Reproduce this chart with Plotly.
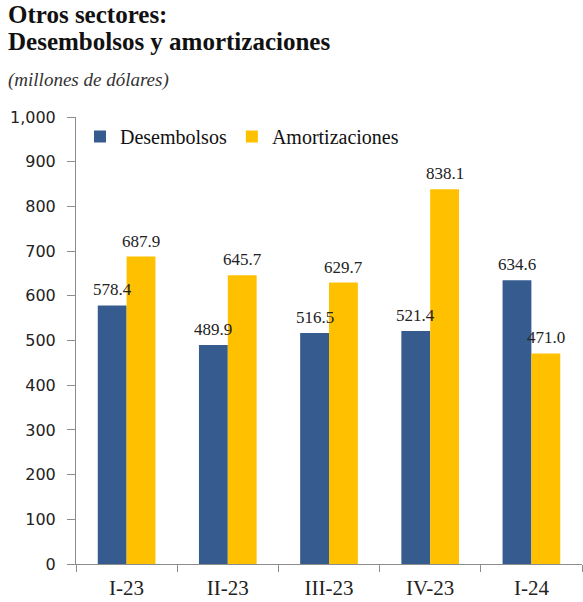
import plotly.graph_objects as go

categories = ["I-23", "II-23", "III-23", "IV-23", "I-24"]
desembolsos = [578.4, 489.9, 516.5, 521.4, 634.6]
amortizaciones = [687.9, 645.7, 629.7, 838.1, 471.0]
y_ticks = [0, 100, 200, 300, 400, 500, 600, 700, 800, 900, 1000]

serif = "Liberation Serif, DejaVu Serif, serif"
sans = "DejaVu Sans, Verdana, sans-serif"

BLUE = "#365C8F"
YELLOW = "#FFC000"

L, R, T, B = 76, 1, 117, 38
W, H = 583, 602
plot_w = W - L - R

fig = go.Figure()
fig.add_trace(go.Bar(x=categories, y=desembolsos, name="Desembolsos",
                     marker=dict(color=BLUE, line=dict(width=0))))
fig.add_trace(go.Bar(x=categories, y=amortizaciones, name="Amortizaciones",
                     marker=dict(color=YELLOW, line=dict(width=0))))

# value labels
for series, shift in ((desembolsos, -14.5), (amortizaciones, 14.5)):
    for c, v in zip(categories, series):
        fig.add_annotation(x=c, y=v, xref="x", yref="y", text=f"{v:.1f}",
                           showarrow=False, xanchor="center", yanchor="bottom",
                           xshift=shift, yshift=4,
                           font=dict(family=serif, size=17, color="#222"))

fig.update_layout(
    width=W, height=H,
    margin=dict(l=L, r=R, t=T, b=B),
    paper_bgcolor="white", plot_bgcolor="white",
    barmode="group", bargap=0.43, bargroupgap=0,
    showlegend=True,
    legend=dict(orientation="h", x=4 / plot_w, y=1.0, xanchor="left", yanchor="top",
                font=dict(family=serif, size=20, color="#111"),
                bgcolor="rgba(0,0,0,0)", traceorder="normal"),
)
fig.update_yaxes(
    range=[0, 1000], tickvals=y_ticks, ticktext=[f"{v:,}" for v in y_ticks],
    showgrid=False, zeroline=False, showline=True, linecolor="#8c8c8c", linewidth=1,
    ticks="outside", ticklen=8, tickcolor="#8c8c8c", ticklabelstandoff=8,
    tickfont=dict(family=sans, size=16, color="#222"),
)
fig.update_xaxes(
    showgrid=False, showline=True, linecolor="#8c8c8c", linewidth=1,
    ticks="outside", ticklen=7, tickcolor="#8c8c8c", tickson="boundaries",
    ticklabelstandoff=5,
    tickfont=dict(family=serif, size=21, color="#222"),
)

tx = (6 - L) / plot_w
fig.add_annotation(text="<b>Otros sectores:</b>", xref="paper", yref="paper",
                   x=tx, y=1.0, xanchor="left", yanchor="bottom",
                   yshift=87, showarrow=False,
                   font=dict(family=serif, size=25, color="#111"))
fig.add_annotation(text="<b>Desembolsos y amortizaciones</b>", xref="paper", yref="paper",
                   x=tx, y=1.0, xanchor="left", yanchor="bottom",
                   yshift=60, showarrow=False,
                   font=dict(family=serif, size=25, color="#111"))
fig.add_annotation(text="<i>(millones de dólares)</i>", xref="paper", yref="paper",
                   x=tx, y=1.0, xanchor="left", yanchor="bottom",
                   yshift=24, showarrow=False,
                   font=dict(family=serif, size=19, color="#333"))

fig.write_html("out.html", config={"displayModeBar": False},
               post_script="document.body.style.margin='0px';")
